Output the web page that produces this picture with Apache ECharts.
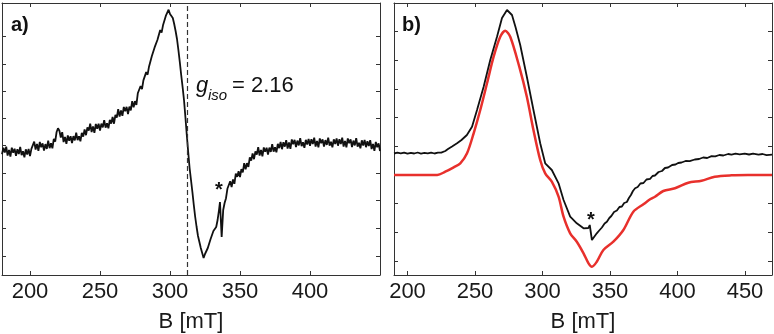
<!DOCTYPE html>
<html>
<head>
<meta charset="utf-8">
<script src="https://cdn.jsdelivr.net/npm/echarts@6/dist/echarts.min.js"></script>
<style>
  html, body { margin: 0; padding: 0; background: #fff; }
  #chart { width: 774px; height: 334px; }
</style>
</head>
<body>
<div id="chart"></div>
<script>
// a) measured spectrum (noisy), field in mT, signal in arbitrary units
const fieldA = [
  180,181,182,183,184,185,186,187,188,189,190,191,192,193,194,195,196,197,198,199,
  200,201,202,203,204,205,206,207,208,209,210,211,212,213,214,215,216,217,218,219,
  220,221,222,223,224,225,226,227,228,229,230,231,232,233,234,235,236,237,238,239,
  240,241,242,243,244,245,246,247,248,249,250,251,252,253,254,255,256,257,258,259,
  260,261,262,263,264,265,266,267,268,269,270,271,272,273,274,275,276,277,278,279,
  280,281,282,283,284,285,286,287,288,289,290,291,292,293,294,295,296,297,298,299,
  300,301,302,303,304,305,306,307,308,309,310,311,312,313,314,315,316,317,318,319,
  320,321,322,323,324,325,326,327,328,329,330,331,332,333,334,335,335.7,336.9,338,339,
  340,341,342,343,344,345,346,347,348,349,350,351,352,353,354,355,356,357,358,359,
  360,361,362,363,364,365,366,367,368,369,370,371,372,373,374,375,376,377,378,379,
  380,381,382,383,384,385,386,387,388,389,390,391,392,393,394,395,396,397,398,399,
  400,401,402,403,404,405,406,407,408,409,410,411,412,413,414,415,416,417,418,419,
  420,421,422,423,424,425,426,427,428,429,430,431,432,433,434,435,436,437,438,439,
  440,441,442,443,444,445,446,447,448,449,450];
const signalA = [
  120.8,127.2,122.4,128.3,119.5,125.1,118.5,127.3,122.2,126.2,119.3,125.7,120.9,128.1,119.8,123.8,117.7,125.7,120.4,126,
  118.8,126.2,124.4,133.3,125.5,131.1,124.2,133,127.7,131.7,124.5,130.9,126.1,134.3,126.8,131.8,126.7,136.2,133.4,143,
  146.8,144.2,137.4,142.8,133,138.1,131.2,139.5,134.2,138.7,132,138.9,134.6,142.3,134.8,138.8,133.7,142.2,138.4,145.5,
  139.8,147.7,144.4,151.3,143,148.6,142.2,151,146.2,151.2,144.5,151.4,147.6,154.8,147.3,151.8,146.7,155.2,151.4,158,
  151.3,160.2,157.4,165.8,158.5,164.6,159.2,168,163.7,168.2,161,168.4,164.6,173.8,167.8,173.8,170.2,181.7,180.4,189,
  185.9,194.6,193.7,202.9,200.3,208.3,207.1,218.8,219.4,227.6,226.3,235,235,244.9,242.4,249.7,249.1,259.1,258.2,265.3,
  261,263,257,251,244,236,225,213,200,188,175,158,140,123,107,95,83,70,58,48,
  39,33,27,22,17,21,20,27,29,36,38,44,44,48,55,65,73,38,65,72,
  76.8,86.2,84.4,93.8,88,95.6,91.2,101.5,98.2,103.7,98,105.9,102.6,111.8,105.8,111.8,108.2,117.7,114.4,121.5,
  115.8,123.7,120.4,127.8,119.5,125.1,118.7,127.5,123.2,127.2,120.5,127.4,123.1,130.8,123.3,127.8,122.7,131.2,126.9,133,
  125.8,132.7,128.4,134.8,126.5,132.6,126.2,135.5,130.7,135.2,128,134.4,129.6,136.8,128.8,132.8,127.2,135.2,130.4,136,
  129.3,135.7,130.9,137.3,128.5,134.1,127.7,136.5,131.7,135.7,128.5,134.9,130.1,137.3,129.3,133.3,127.7,135.7,130.9,136.5,
  129.3,135.7,130.9,137.3,128.5,134.1,127.7,136.5,131.7,135.7,128,134.4,129.6,136.8,128.3,132.3,126.7,134.7,129.4,135,
  127.8,133.7,128.9,134.8,126,131.1,124.2,133,127.7,131.7,124];
const xTicksA = [200, 250, 300, 350, 400];
const yTicksA = [19, 46.7, 74.7, 102, 129.3, 156.7, 184, 211, 239];
const gIsoField = 312;

// b) measured (black) and simulated (red) spectra
const fieldB = [
  190,192.5,195,197.5,200,202.5,205,207.5,210,212.5,215,217.5,220,222.5,225,228,230,233,236.7,240,
  244,247.8,251.5,256.4,261.3,266.3,270,273.7,277.4,280,283.5,288.4,293.3,298.3,302,306.9,311.9,315.6,320.5,325.4,
  330.4,334,335,336.6,340.2,342,344,346,347.7,349.5,351,353,355.1,357,358.8,360.5,362.5,364,365.5,367,
  368.6,370.5,372.5,374.8,377,379.7,381.5,383.3,386,388.5,390.7,393,396,398.5,400.5,403,406,409,412.8,416,
  419,422,425.2,428,431,434,437.5,440,443,446,449.8,453,456,460,463,466,470];
const expB = [
  121.5,122.3,121.6,122.4,121.3,122.2,121.5,122.5,121.4,122.1,121.6,122.4,121.5,122.3,122.3,124,126,128.5,131.7,135,
  140,148.3,165,188.3,215,238.3,257,265,260,248,230,198.3,165,131.7,111.7,105,91.7,75,58.3,51.7,
  46.7,47,50,35,41.7,44.5,47.5,51.5,53.3,57,59,63,64.5,68,68.5,72,73,77,80,84,
  86.7,88,91.5,92,95.5,96.2,99,99.5,103,104,107,107.5,110,110.5,112,112.5,114,113.8,115.5,116,
  117.5,117,118.8,118.6,120,119.5,121,120.3,121.3,120.6,121.4,120.5,121.3,120.4,121,119.8,120.3];
const fieldSim = [190,222,228,234.2,239.1,244.1,249,253.9,258.9,263.8,268.7,272.4,276.1,282.8,288.4,293.3,298.3,302,306.9,311.9,
  315.6,320.5,325.4,330.4,334.1,336.6,340.2,345.1,352.5,359.9,367.3,375,380,383.3,389.5,398.1,408,417.8,427.6,440,452.2,470];
const simB = [100,100,103.3,107.7,111.7,121.7,141.7,165,191.7,218.3,238.3,244.3,238.3,208.3,178.3,145,115,101.7,93.3,78.3,
  58.3,41.7,33.3,21.7,11.7,8.3,13.3,25,33.3,45,63.3,71,76,78.3,84,86.7,92.3,94.3,98.3,99.7,100,100];
const xTicksB = [200, 250, 300, 350, 400, 450];
const yTicksB = [13.3, 42.3, 71.3, 99.3, 128.3, 157.3, 186, 215, 243.3];

const zip = (xs, ys) => xs.map((x, i) => [x, ys[i]]);

const FONT = "Liberation Sans, Arial, sans-serif";
const lineCol = "#333";
const textCol = "#1a1a1a";

function xAxis(grid, min, max, ticks, top) {
  return {
    type: "value", gridIndex: grid, min, max, position: top ? "top" : "bottom",
    axisLine: { show: true, onZero: false, lineStyle: { color: lineCol, width: 1 } },
    axisTick: { show: true, inside: true, length: 4, customValues: ticks, lineStyle: { color: lineCol } },
    axisLabel: top ? { show: false } : {
      show: true, customValues: ticks, margin: 6, color: textCol, fontSize: 22, fontFamily: FONT,
    },
    splitLine: { show: false },
    name: top ? "" : "B [mT]",
    nameLocation: "middle",
    nameGap: 36,
    nameTextStyle: { color: textCol, fontSize: 22, fontFamily: FONT },
  };
}

function yAxis(grid, ticks, right) {
  return {
    type: "value", gridIndex: grid, min: 0, max: 272, position: right ? "right" : "left",
    axisLine: { show: true, onZero: false, lineStyle: { color: lineCol, width: 1 } },
    axisTick: { show: true, inside: true, length: 4, customValues: ticks, lineStyle: { color: lineCol } },
    axisLabel: { show: false },
    splitLine: { show: false },
  };
}

const chart = echarts.init(document.getElementById("chart"), null, { renderer: "canvas" });

const txt = (x, y, text, size, extra) => ({
  type: "text", x, y,
  style: Object.assign({ text, fontSize: size, fontFamily: FONT, fill: "#111", verticalAlign: "middle" }, extra || {}),
});

chart.setOption({
  animation: false,
  backgroundColor: "#fff",
  grid: [
    { left: 2, top: 3, width: 378, height: 272, outerBoundsMode: "none", containLabel: false },
    { left: 394, top: 3, width: 378, height: 272, outerBoundsMode: "none", containLabel: false },
  ],
  xAxis: [
    xAxis(0, 180, 450, xTicksA, false),
    xAxis(0, 180, 450, xTicksA, true),
    xAxis(1, 190, 470, xTicksB, false),
    xAxis(1, 190, 470, xTicksB, true),
  ],
  yAxis: [
    yAxis(0, yTicksA, false),
    yAxis(0, yTicksA, true),
    yAxis(1, yTicksB, false),
    yAxis(1, yTicksB, true),
  ],
  series: [
    {
      type: "line", xAxisIndex: 0, yAxisIndex: 0,
      data: zip(fieldA, signalA),
      showSymbol: false,
      lineStyle: { color: "#111", width: 1.8 },
      markLine: {
        silent: true, symbol: "none", label: { show: false },
        lineStyle: { color: "#333", type: [5, 3], width: 1.2 },
        data: [{ xAxis: gIsoField }],
      },
    },
    {
      type: "line", xAxisIndex: 2, yAxisIndex: 2,
      data: zip(fieldSim, simB),
      showSymbol: false, smooth: 0.3,
      lineStyle: { color: "#e8302c", width: 2.5 },
    },
    {
      type: "line", xAxisIndex: 2, yAxisIndex: 2,
      data: zip(fieldB, expB),
      showSymbol: false,
      lineStyle: { color: "#111", width: 1.8 },
    },
  ],
  graphic: [
    txt(11, 25, "a)", 20, { fontWeight: "bold" }),
    txt(402, 25, "b)", 20, { fontWeight: "bold" }),
    txt(196, 86, "g", 22, { fontStyle: "italic" }),
    txt(208, 96, "iso", 15, { fontStyle: "italic" }),
    txt(232, 86, "= 2.16", 22),
    txt(219, 190, "*", 20, { fontWeight: "bold", align: "center" }),
    txt(591, 220, "*", 20, { fontWeight: "bold", align: "center" }),
  ],
});
</script>
</body>
</html>
